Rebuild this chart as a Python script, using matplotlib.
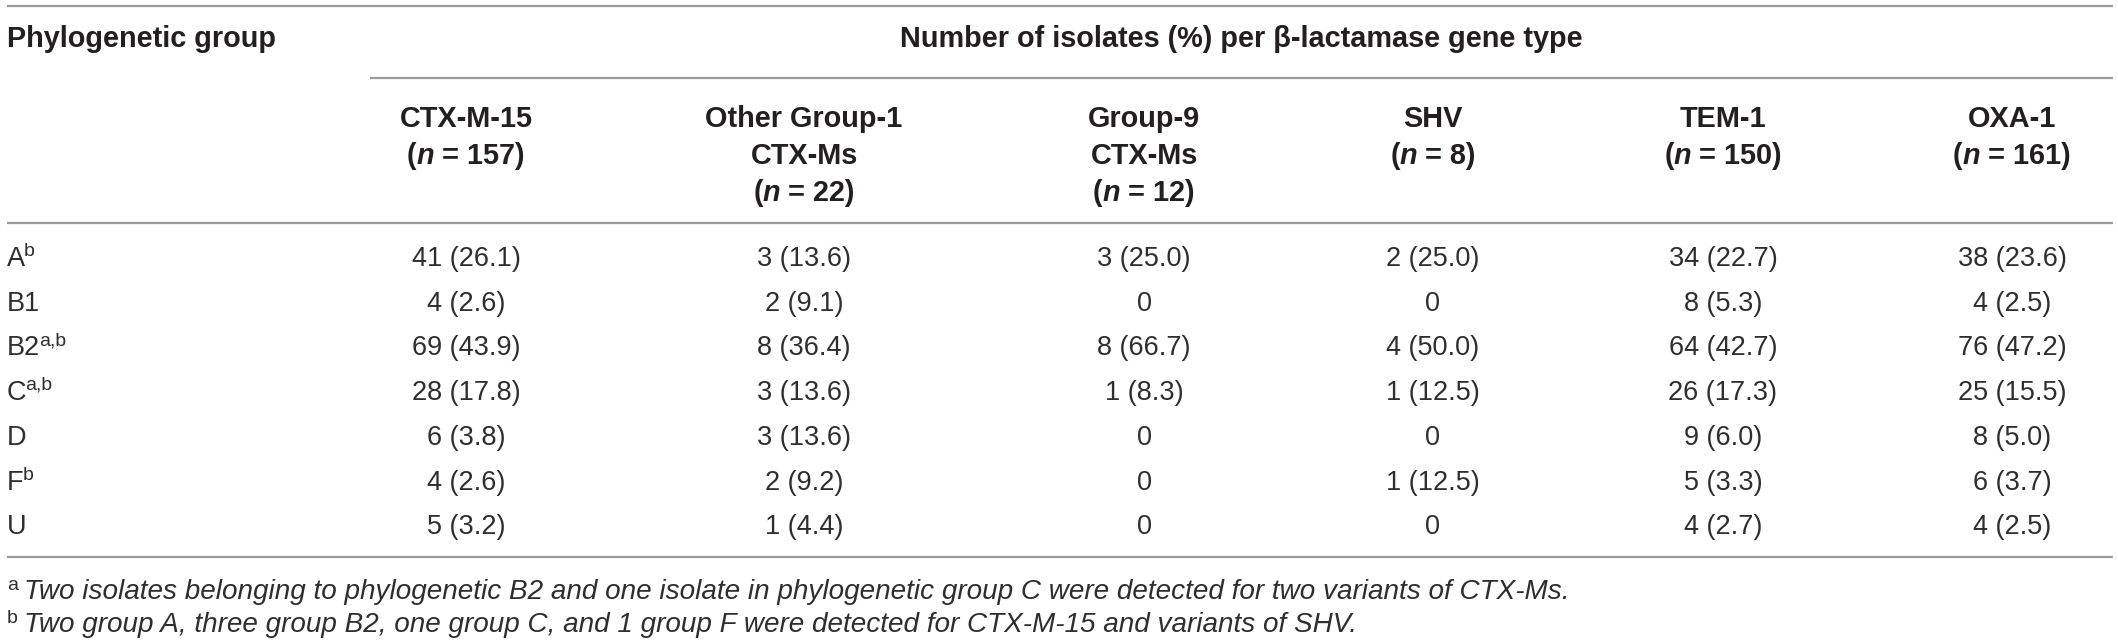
import matplotlib
matplotlib.use("Agg")
import matplotlib.pyplot as plt

# ---------------- data ----------------
groups = ["A", "B1", "B2", "C", "D", "F", "U"]
group_sups = ["b", "", "a,b", "a,b", "", "b", ""]

gene_names = [["CTX-M-15"], ["Other Group-1", "CTX-Ms"], ["Group-9", "CTX-Ms"],
              ["SHV"], ["TEM-1"], ["OXA-1"]]
gene_n = [157, 22, 12, 8, 150, 161]

ctx_m15_n = [41, 4, 69, 28, 6, 4, 5]
ctx_m15_p = [26.1, 2.6, 43.9, 17.8, 3.8, 2.6, 3.2]
other_g1_n = [3, 2, 8, 3, 3, 2, 1]
other_g1_p = [13.6, 9.1, 36.4, 13.6, 13.6, 9.2, 4.4]
group9_n = [3, 0, 8, 1, 0, 0, 0]
group9_p = [25.0, None, 66.7, 8.3, None, None, None]
shv_n = [2, 0, 4, 1, 0, 1, 0]
shv_p = [25.0, None, 50.0, 12.5, None, 12.5, None]
tem1_n = [34, 8, 64, 26, 9, 5, 4]
tem1_p = [22.7, 5.3, 42.7, 17.3, 6.0, 3.3, 2.7]
oxa1_n = [38, 4, 76, 25, 8, 6, 4]
oxa1_p = [23.6, 2.5, 47.2, 15.5, 5.0, 3.7, 2.5]

col_counts = [ctx_m15_n, other_g1_n, group9_n, shv_n, tem1_n, oxa1_n]
col_pcts = [ctx_m15_p, other_g1_p, group9_p, shv_p, tem1_p, oxa1_p]

stub_header = "Phylogenetic group"
span_header = "Number of isolates (%) per β-lactamase gene type"
footnotes = [
    ("a", "Two isolates belonging to phylogenetic B2 and one isolate in phylogenetic group C were detected for two variants of CTX-Ms."),
    ("b", "Two group A, three group B2, one group C, and 1 group F were detected for CTX-M-15 and variants of SHV."),
]

# ---------------- layout ----------------
W, H = 2118, 641
fig = plt.figure(figsize=(W / 100, H / 100), dpi=100)
ax = fig.add_axes([0, 0, 1, 1])
ax.set_xlim(0, W)
ax.set_ylim(H, 0)
ax.axis("off")

FONT = "Liberation Sans"
TXT = "#231f20"
BODY = "#2e2e2e"
RULE = "#9a9a9a"
SZ = 19.5
BSZ = 20.8
SUP = 14
FSZ = 20.1

renderer = fig.canvas.get_renderer()


def width_of(s, **kw):
    t = ax.text(0, 0, s, family=FONT, **kw)
    bb = t.get_window_extent(renderer)
    t.remove()
    return bb.width


def rich(x, y, pieces, ha="center"):
    widths = [width_of(s, **kw) for s, kw in pieces]
    total = sum(widths)
    x0 = x - total / 2 if ha == "center" else x
    for (s, kw), w in zip(pieces, widths):
        ax.text(x0, y, s, family=FONT, ha="left", va="baseline", color=TXT, **kw)
        x0 += w


def label_sup(x, y, base, sup, size, sup_size, style="normal", rise=10):
    ax.text(x, y, base, family=FONT, ha="left", va="baseline", color=BODY,
            fontsize=size, fontstyle=style)
    if sup:
        w = width_of(base, fontsize=size, fontstyle=style)
        ax.text(x + w - 1, y - rise, sup, family=FONT, ha="left", va="baseline",
                color=BODY, fontsize=sup_size, fontstyle=style)


# rules
for (x0, x1, y) in [(7, 2113, 6), (370, 2113, 78), (7, 2113, 223), (7, 2113, 557)]:
    ax.plot([x0, x1], [y, y], color=RULE, lw=1.6, solid_capstyle="butt")

# top headers
ax.text(7, 47, stub_header, family=FONT, fontweight="bold", fontsize=BSZ,
        ha="left", va="baseline", color=TXT)
ax.text(1241, 47, span_header, family=FONT, fontweight="bold", fontsize=BSZ,
        ha="center", va="baseline", color=TXT)

col_x = [466, 804, 1144, 1433, 1723, 2012]
head_base = [127, 164, 201]
for cx, names, n in zip(col_x, gene_names, gene_n):
    for i, nm in enumerate(names):
        ax.text(cx, head_base[i], nm, family=FONT, fontweight="bold", fontsize=BSZ,
                ha="center", va="baseline", color=TXT)
    bold = dict(fontweight="bold", fontsize=BSZ)
    boldi = dict(fontweight="bold", fontsize=BSZ, fontstyle="italic")
    rich(cx, head_base[len(names)], [("(", bold), ("n", boldi), (f" = {n})", bold)])

# body
row_base = [266, 311, 355, 400, 445, 490, 534]
for r, (g, sp) in enumerate(zip(groups, group_sups)):
    label_sup(7, row_base[r], g, sp, SZ, SUP)
    for cx, cnts, pcts in zip(col_x, col_counts, col_pcts):
        c, p = cnts[r], pcts[r]
        s = f"{c} ({p:.1f})" if p is not None else f"{c}"
        ax.text(cx, row_base[r], s, family=FONT, fontsize=SZ, ha="center",
                va="baseline", color=BODY)

# footnotes
foot_base = [599, 632]
for (mark, txt), yb in zip(footnotes, foot_base):
    ax.text(7, yb - 9, mark, family=FONT, fontsize=SUP, ha="left", va="baseline", color=BODY)
    ax.text(24, yb, txt, family=FONT, fontsize=FSZ, fontstyle="italic",
            ha="left", va="baseline", color=BODY)

fig.savefig("out.png", dpi=100)
